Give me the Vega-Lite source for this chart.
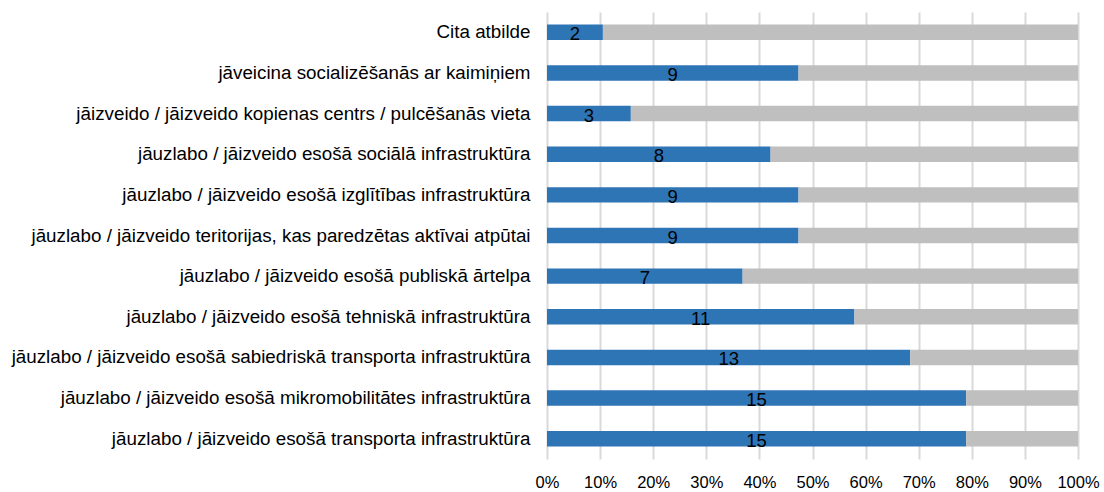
{
  "$schema": "https://vega.github.io/schema/vega-lite/v6.json",
  "width": 531,
  "height": 447,
  "autosize": {"type": "none"},
  "padding": {"left": 547, "top": 12, "right": 26, "bottom": 33},
  "background": "white",
  "config": {
    "view": {"stroke": null},
    "font": "Liberation Sans"
  },
  "data": {
    "values": [
      {"cat": "Cita atbilde", "kind": "jā", "k": 1, "value": 2},
      {"cat": "Cita atbilde", "kind": "nē", "k": 2, "value": 17},
      {"cat": "jāveicina socializēšanās ar kaimiņiem", "kind": "jā", "k": 1, "value": 9},
      {"cat": "jāveicina socializēšanās ar kaimiņiem", "kind": "nē", "k": 2, "value": 10},
      {"cat": "jāizveido / jāizveido kopienas centrs / pulcēšanās vieta", "kind": "jā", "k": 1, "value": 3},
      {"cat": "jāizveido / jāizveido kopienas centrs / pulcēšanās vieta", "kind": "nē", "k": 2, "value": 16},
      {"cat": "jāuzlabo / jāizveido esošā sociālā infrastruktūra", "kind": "jā", "k": 1, "value": 8},
      {"cat": "jāuzlabo / jāizveido esošā sociālā infrastruktūra", "kind": "nē", "k": 2, "value": 11},
      {"cat": "jāuzlabo / jāizveido esošā izglītības infrastruktūra\u00a0", "kind": "jā", "k": 1, "value": 9},
      {"cat": "jāuzlabo / jāizveido esošā izglītības infrastruktūra\u00a0", "kind": "nē", "k": 2, "value": 10},
      {"cat": "jāuzlabo / jāizveido teritorijas, kas paredzētas aktīvai atpūtai", "kind": "jā", "k": 1, "value": 9},
      {"cat": "jāuzlabo / jāizveido teritorijas, kas paredzētas aktīvai atpūtai", "kind": "nē", "k": 2, "value": 10},
      {"cat": "jāuzlabo / jāizveido esošā publiskā ārtelpa", "kind": "jā", "k": 1, "value": 7},
      {"cat": "jāuzlabo / jāizveido esošā publiskā ārtelpa", "kind": "nē", "k": 2, "value": 12},
      {"cat": "jāuzlabo / jāizveido esošā tehniskā infrastruktūra", "kind": "jā", "k": 1, "value": 11},
      {"cat": "jāuzlabo / jāizveido esošā tehniskā infrastruktūra", "kind": "nē", "k": 2, "value": 8},
      {"cat": "jāuzlabo / jāizveido esošā sabiedriskā transporta infrastruktūra", "kind": "jā", "k": 1, "value": 13},
      {"cat": "jāuzlabo / jāizveido esošā sabiedriskā transporta infrastruktūra", "kind": "nē", "k": 2, "value": 6},
      {"cat": "jāuzlabo / jāizveido esošā mikromobilitātes infrastruktūra", "kind": "jā", "k": 1, "value": 15},
      {"cat": "jāuzlabo / jāizveido esošā mikromobilitātes infrastruktūra", "kind": "nē", "k": 2, "value": 4},
      {"cat": "jāuzlabo / jāizveido esošā transporta infrastruktūra", "kind": "jā", "k": 1, "value": 15},
      {"cat": "jāuzlabo / jāizveido esošā transporta infrastruktūra", "kind": "nē", "k": 2, "value": 4}
    ]
  },
  "encoding": {
    "y": {
      "field": "cat",
      "type": "nominal",
      "sort": null,
      "title": null,
      "scale": {"paddingInner": 0.62, "paddingOuter": 0.31},
      "axis": {
        "domain": false,
        "ticks": false,
        "labelFontSize": 18.8,
        "labelColor": "#000000",
        "labelPadding": 17,
        "labelLimit": 600
      }
    }
  },
  "layer": [
    {
      "mark": {"type": "bar"},
      "encoding": {
        "x": {
          "field": "value",
          "type": "quantitative",
          "stack": "normalize",
          "title": null,
          "scale": {"domain": [0, 1], "nice": false},
          "axis": {
            "format": ".0%",
            "values": [0, 0.1, 0.2, 0.3, 0.4, 0.5, 0.6, 0.7, 0.8, 0.9, 1],
            "domain": false,
            "ticks": false,
            "grid": true,
            "gridColor": "#d9d9d9",
            "gridWidth": 2,
            "labelFontSize": 16.5,
            "labelColor": "#000000",
            "labelPadding": 15,
            "labelFlush": false
          }
        },
        "color": {
          "field": "kind",
          "type": "nominal",
          "scale": {"domain": ["jā", "nē"], "range": ["#2E75B6", "#BFBFBF"]},
          "legend": null
        },
        "order": {"field": "k", "type": "quantitative"}
      }
    },
    {
      "mark": {"type": "text", "fontSize": 18.5, "color": "#000000", "baseline": "middle", "dy": 2},
      "encoding": {
        "x": {
          "field": "value",
          "type": "quantitative",
          "stack": "normalize",
          "bandPosition": 0.5
        },
        "order": {"field": "k", "type": "quantitative"},
        "text": {"field": "value", "type": "quantitative"},
        "opacity": {
          "condition": {"test": "datum.k == 1", "value": 1},
          "value": 0
        }
      }
    }
  ]
}
